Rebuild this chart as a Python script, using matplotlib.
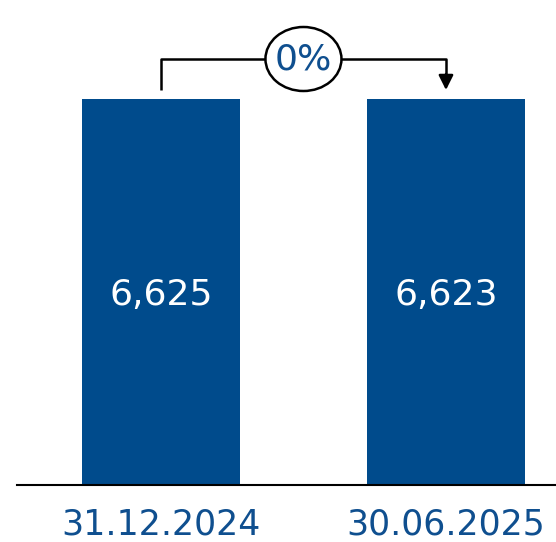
import matplotlib
matplotlib.use("Agg")
import matplotlib.pyplot as plt
from matplotlib.patches import Ellipse

plt.rcParams['font.family'] = ['DejaVu Sans']

BLUE = '#004b8c'
TEXT_BLUE = '#0f4f8f'

dates = ['31.12.2024', '30.06.2025']
values = [6625, 6623]
change_label = '0%'


def main():
    fig = plt.figure(figsize=(5.56, 5.42), dpi=100)
    ax = fig.add_axes([17 / 556, 57 / 542, 1 - 17 / 556, 485 / 542])

    x = list(range(len(values)))
    ax.bar(x, values, width=0.554, color=BLUE, zorder=2)

    # value labels inside bars
    for xi, v in zip(x, values):
        ax.text(xi, v * (485 - 295) / 386, f"{v:,}", color='white', fontsize=26,
                ha='center', va='center')

    ax.set_xlim(-0.505, 1.386)
    ax.set_ylim(0, values[0] * 485 / 386)

    # bracket between the two bars
    px = values[0] / 386  # one pixel in data units
    y_start = values[0] + 9 * px
    y_top = values[0] + 40 * px
    ax.plot([x[0], x[0], x[1], x[1]], [y_start, y_top, y_top, y_start + 14 * px],
            color='black', lw=1.8, solid_capstyle='butt', clip_on=False)
    ax.annotate('', xy=(x[1], y_start), xytext=(x[1], y_start + 16 * px),
                arrowprops=dict(arrowstyle='-|>', color='black', lw=1.8,
                                mutation_scale=22, shrinkA=0, shrinkB=0))
    mid = (x[0] + x[1]) / 2
    ax.add_patch(Ellipse((mid, y_top), 76 / 285, 64 * px, facecolor='white',
                         edgecolor='black', lw=1.8, zorder=3, clip_on=False))
    ax.text(mid, y_top, change_label, color=TEXT_BLUE, fontsize=26,
            ha='center', va='center', zorder=4)

    ax.set_xticks(x)
    ax.set_xticklabels(dates, color=TEXT_BLUE, fontsize=25)
    ax.tick_params(axis='x', length=0, pad=16)
    ax.set_yticks([])
    for s in ['top', 'right', 'left']:
        ax.spines[s].set_visible(False)
    ax.spines['bottom'].set_linewidth(1.5)
    ax.spines['bottom'].set_color('black')

    fig.savefig('out.png', dpi=100)


if __name__ == "__main__":
    main()
